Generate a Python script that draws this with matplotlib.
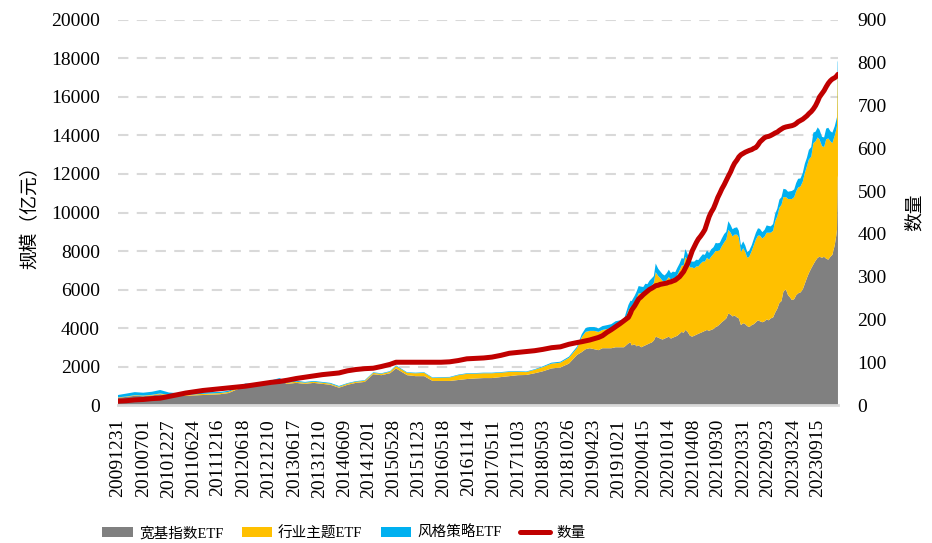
import pandas as pd
import matplotlib.pyplot as plt

# --- dados ---
datas = [
    "2009-12-31", "2010-02-26", "2010-04-30", "2010-06-30", "2010-08-31", "2010-10-29", "2010-12-31",
    "2011-02-28", "2011-04-29", "2011-06-30", "2011-08-31", "2011-10-31", "2011-12-30",
    "2012-02-29", "2012-04-27", "2012-06-29", "2012-08-31", "2012-10-31", "2012-12-31",
    "2013-02-28", "2013-04-26", "2013-06-28", "2013-08-30", "2013-10-31", "2013-12-31",
    "2014-02-28", "2014-04-30", "2014-06-30", "2014-08-29", "2014-10-31", "2014-12-31",
    "2015-02-27", "2015-04-30", "2015-06-12", "2015-08-31", "2015-10-30", "2015-12-31",
    "2016-02-29", "2016-04-29", "2016-06-30", "2016-08-31", "2016-10-31", "2016-12-30",
    "2017-02-28", "2017-04-28", "2017-06-30", "2017-08-31", "2017-10-31", "2017-12-29",
    "2018-02-28", "2018-04-27", "2018-06-29", "2018-08-31", "2018-10-31", "2018-12-28",
    "2019-01-31", "2019-02-28", "2019-03-29", "2019-04-30", "2019-05-31", "2019-06-28",
    "2019-07-31", "2019-08-30", "2019-09-30", "2019-10-31", "2019-11-29", "2019-12-31",
    "2020-01-15", "2020-01-23", "2020-02-14", "2020-02-28", "2020-03-13", "2020-03-31",
    "2020-04-15", "2020-04-30", "2020-05-15", "2020-05-29", "2020-06-15", "2020-06-30",
    "2020-07-13", "2020-07-31", "2020-08-14", "2020-08-31", "2020-09-15", "2020-09-30",
    "2020-10-15", "2020-10-30", "2020-11-13", "2020-11-30", "2020-12-15", "2020-12-31",
    "2021-01-15", "2021-01-29", "2021-02-10", "2021-02-26", "2021-03-15", "2021-03-31",
    "2021-04-15", "2021-04-30", "2021-05-14", "2021-05-31", "2021-06-15", "2021-06-30",
    "2021-07-15", "2021-07-30", "2021-08-13", "2021-08-31", "2021-09-15", "2021-09-30",
    "2021-10-15", "2021-10-29", "2021-11-15", "2021-11-30", "2021-12-15", "2021-12-31",
    "2022-01-14", "2022-01-28", "2022-02-15", "2022-02-28", "2022-03-15", "2022-03-31",
    "2022-04-15", "2022-04-29", "2022-05-13", "2022-05-31", "2022-06-15", "2022-06-30",
    "2022-07-15", "2022-07-29", "2022-08-15", "2022-08-31", "2022-09-15", "2022-09-30",
    "2022-10-14", "2022-10-31", "2022-11-15", "2022-11-30", "2022-12-15", "2022-12-30",
    "2023-01-13", "2023-01-31", "2023-02-15", "2023-02-28", "2023-03-15", "2023-03-31",
    "2023-04-14", "2023-04-28", "2023-05-15", "2023-05-31", "2023-06-15", "2023-06-30",
    "2023-07-14", "2023-07-31", "2023-08-15", "2023-08-31", "2023-09-15", "2023-09-28",
    "2023-10-16", "2023-10-31", "2023-11-15", "2023-11-30", "2023-12-15", "2023-12-29",
    "2024-01-15", "2024-01-26", "2024-01-31", "2024-02-05", "2024-02-07",
]

kuanji = [  # 宽基指数ETF
    380, 420, 480, 460, 500, 560, 480,
    470, 480, 500, 520, 540, 560,
    620, 800, 1000, 1000, 1050, 1150,
    1250, 1100, 1150, 1100, 1150, 1100,
    1050, 900, 1050, 1150, 1200, 1600,
    1550, 1650, 1900, 1550, 1500, 1500,
    1250, 1250, 1250, 1300, 1350, 1380,
    1400, 1400, 1450, 1500, 1550, 1560,
    1650, 1750, 1900, 1950, 2150, 2600,
    2750, 2900, 2950, 2900, 2850, 2950,
    2950, 2950, 3000, 3000, 3000, 3200,
    3250, 3100, 3150, 3050, 3100, 3000,
    3050, 3100, 3150, 3200, 3250, 3350,
    3550, 3500, 3450, 3400, 3450, 3500,
    3550, 3450, 3500, 3550, 3600, 3700,
    3800, 3750, 3900, 3800, 3600, 3550,
    3600, 3650, 3700, 3750, 3800, 3850,
    3900, 3850, 3900, 3950, 4050, 4100,
    4200, 4300, 4400, 4500, 4750, 4700,
    4600, 4650, 4550, 4500, 4150, 4250,
    4200, 4100, 4050, 4150, 4200, 4300,
    4400, 4350, 4300, 4350, 4450, 4400,
    4500, 4550, 4800, 5000, 5300, 5400,
    5900, 6000, 5700, 5600, 5450, 5500,
    5700, 5800, 5850, 6000, 6300, 6600,
    6850, 7100, 7300, 7500, 7650, 7700,
    7650, 7700, 7600, 7550, 7700, 7800,
    8300, 8800, 9100, 11800, 11900,
]

hangye = [  # 行业主题ETF
    20, 20, 30, 30, 30, 40, 40,
    40, 40, 50, 60, 60, 60,
    60, 60, 60, 60, 60, 70,
    70, 60, 60, 60, 60, 60,
    60, 50, 60, 60, 60, 70,
    70, 80, 120, 120, 150, 170,
    150, 170, 180, 250, 270, 250,
    250, 250, 230, 220, 180, 150,
    180, 220, 250, 250, 300, 350,
    780, 900, 900, 950, 950, 950,
    1000, 1050, 1150, 1200, 1250, 1700,
    1850, 2000, 2200, 2500, 2700, 2800,
    2750, 2850, 2800, 2900, 2950, 3000,
    3350, 3200, 3150, 3050, 2950, 3000,
    3100, 3050, 3100, 3000, 3150, 3300,
    3450, 3500, 3800, 3700, 3550, 3600,
    3500, 3550, 3500, 3600, 3650, 3600,
    3750, 3700, 3800, 3900, 3950, 3900,
    3850, 3950, 4050, 4100, 4350, 4250,
    4150, 4200, 4300, 4200, 3800, 3900,
    3750, 3550, 3650, 3850, 4100, 4300,
    4400, 4450, 4350, 4400, 4500, 4550,
    4450, 4500, 4750, 4800, 4950, 5000,
    4900, 4800, 5000, 5100, 5250, 5300,
    5400, 5500, 5500, 5600, 5750, 5800,
    5900, 5800, 6300, 6200, 6250, 6100,
    5800, 5700, 6200, 6300, 6000, 5800,
    5700, 5500, 5400, 5400, 5300,
]

fengge = [  # 风格策略ETF
    120, 150, 160, 150, 160, 180, 130,
    110, 100, 90, 80, 70, 60,
    60, 60, 60, 50, 50, 60,
    80, 50, 50, 40, 40, 40,
    40, 40, 30, 30, 30, 30,
    30, 30, 40, 30, 30, 30,
    30, 30, 30, 30, 30, 30,
    30, 30, 30, 30, 30, 30,
    30, 40, 50, 50, 60, 80,
    150, 200, 200, 200, 180, 200,
    200, 200, 200, 200, 200, 300,
    320, 300, 330, 350, 380, 350,
    330, 350, 330, 350, 380, 350,
    450, 380, 350, 350, 330, 350,
    380, 350, 330, 350, 380, 350,
    380, 350, 400, 350, 330, 300,
    350, 350, 330, 350, 380, 350,
    380, 350, 380, 350, 420, 400,
    380, 400, 430, 400, 450, 400,
    380, 350, 380, 350, 330, 350,
    330, 300, 320, 300, 330, 350,
    380, 350, 330, 350, 380, 350,
    330, 350, 380, 400, 420, 400,
    430, 400, 380, 400, 420, 400,
    430, 450, 420, 450, 480, 450,
    500, 500, 550, 500, 520, 500,
    480, 500, 560, 550, 520, 550,
    480, 500, 450, 700, 600,
]

quantidade = [  # 数量
    9, 10, 12, 13, 15, 16, 20,
    24, 28, 31, 34, 36, 38,
    40, 42, 44, 47, 50, 53,
    55, 58, 62, 65, 68, 71,
    73, 75, 80, 83, 85, 86,
    90, 95, 100, 100, 100, 100,
    100, 100, 101, 104, 108, 109,
    110, 112, 116, 121, 123, 125,
    127, 130, 134, 136, 142, 146,
    148, 150, 152, 155, 158, 162,
    170, 176, 183, 190, 197, 205,
    215, 222, 232, 240, 248, 253,
    258, 262, 266, 270, 273, 276,
    279, 280, 282, 283, 284, 285,
    287, 288, 290, 292, 296, 300,
    306, 312, 320, 330, 345, 360,
    370, 380, 388, 395, 402, 410,
    425, 440, 450, 460, 472, 485,
    495, 505, 515, 525, 535, 545,
    556, 565, 573, 580, 585, 588,
    591, 593, 595, 597, 600, 602,
    608, 615, 620, 625, 627, 628,
    630, 633, 636, 638, 642, 645,
    648, 650, 651, 652, 653, 655,
    658, 662, 665, 668, 672, 676,
    681, 686, 692, 700, 710, 720,
    728, 735, 744, 752, 758, 762,
    765, 768, 770, 772, 773,
]

rotulos_x = [
    "20091231", "20100701", "20101227", "20110624", "20111216", "20120618", "20121210",
    "20130617", "20131210", "20140609", "20141201", "20150528", "20151123", "20160518",
    "20161114", "20170511", "20171103", "20180503", "20181026", "20190423", "20191021",
    "20200415", "20201014", "20210408", "20210930", "20220331", "20220923", "20230324",
    "20230915",
]

series_nomes = ["宽基指数ETF", "行业主题ETF", "风格策略ETF"]
cores = ["#808080", "#FFC000", "#00B0F0"]
cor_linha = "#C00000"

# --- fontes ---
plt.rcParams["font.family"] = ["Liberation Serif", "Noto Sans CJK SC", "DejaVu Sans"]

x = pd.to_datetime(datas)
ticks = pd.to_datetime(rotulos_x, format="%Y%m%d")

fig = plt.figure(figsize=(9.32, 5.43), dpi=100)
ax = fig.add_axes([0.1266, 0.2541, 0.7725, 0.7091])

polys = ax.stackplot(x, kuanji, hangye, fengge, colors=cores, linewidth=0, labels=series_nomes)

ax.set_ylim(0, 20000)
ax.set_yticks(range(0, 20001, 2000))
ax.set_xlim(pd.Timestamp("2009-12-31"), pd.Timestamp("2024-02-07"))
ax.set_xticks(ticks)
ax.set_xticklabels(rotulos_x, rotation=90)
ax.grid(axis="y", color="#d9d9d9", linestyle=(0, (5, 4)), linewidth=1.5)
ax.set_axisbelow(True)
ax.tick_params(axis="both", length=0, labelsize=14)
ax.tick_params(axis="y", pad=13)
ax.tick_params(axis="x", pad=10)
for lado in ["left", "right", "top"]:
    ax.spines[lado].set_visible(False)
ax.spines["bottom"].set_color("#d9d9d9")
ax.spines["bottom"].set_linewidth(2)
ax.set_ylabel("规模（亿元）", fontsize=13.5, labelpad=8)

ax2 = ax.twinx()
linha, = ax2.plot(x, quantidade, color=cor_linha, linewidth=3.6, label="数量",
                  solid_capstyle="round")
ax2.set_ylim(0, 900)
ax2.set_yticks(range(0, 901, 100))
ax2.tick_params(axis="y", length=0, labelsize=14, pad=14)
for lado in ["left", "right", "top", "bottom"]:
    ax2.spines[lado].set_visible(False)
ax2.set_ylabel("数量", fontsize=13.5, labelpad=14)

fig.legend(handles=list(polys) + [linha], labels=series_nomes + ["数量"],
           loc="center", bbox_to_anchor=(0.369, 0.018), ncol=4, frameon=False,
           fontsize=10.5, handlelength=2.1, handletextpad=0.4, columnspacing=1.25)

fig.savefig("out.png", dpi=100)
